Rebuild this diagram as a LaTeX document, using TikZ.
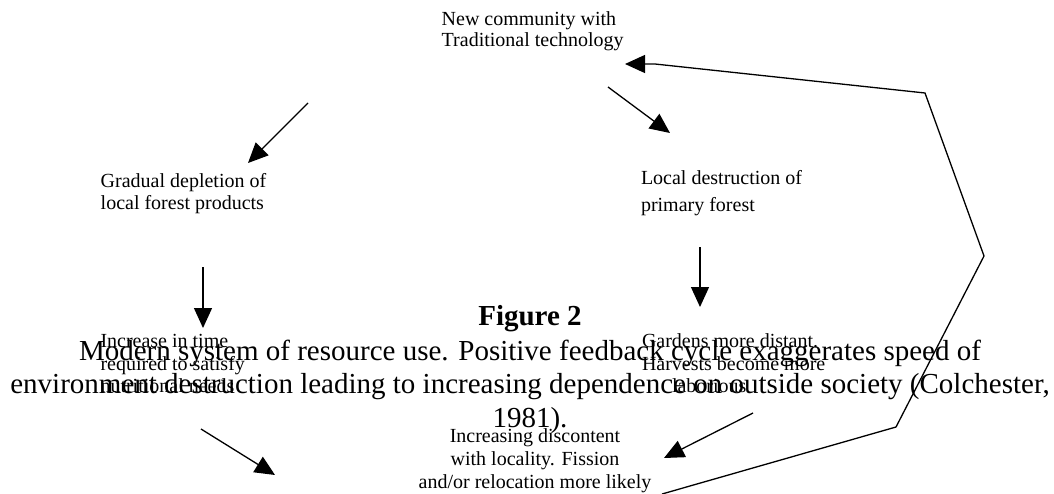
\documentclass[tikz,border=0pt]{standalone}
\usepackage{fontspec}
\setmainfont{Liberation Serif}
\usetikzlibrary{arrows.meta}
\begin{document}
\begin{tikzpicture}[x=1pt,y=-1pt,
  lbl/.style={inner sep=0pt, outer sep=0pt, font=\fontsize{20}{22}\selectfont, align=left, anchor=base west},
  lblc/.style={inner sep=0pt, outer sep=0pt, font=\fontsize{20}{22.7}\selectfont, align=center, anchor=base},
  captxt/.style={inner sep=0pt, outer sep=0pt, font=\fontsize{29}{33.5}\selectfont, align=center, anchor=base},
  arr/.style={line width=1.3pt, -{Triangle[length=20pt,width=18pt]}},
  fb/.style={line width=1.3pt, line join=miter}]
\useasboundingbox (0,0) rectangle (1054,493);
% texts (anchor = baseline of the last line)
\node[lbl, font=\fontsize{20}{21.7}\selectfont] (new) at (441.7,46.7) {New community with\\Traditional technology};
\node[lbl] (grad) at (100.7,209) {Gradual depletion of\\local forest products};
\node[lbl, font=\fontsize{20}{26.5}\selectfont] (local) at (641,211) {Local destruction of\\primary forest};
\node[lbl, font=\fontsize{20}{22.7}\selectfont] (incr) at (100.5,392.9) {Increase in time\\required to satisfy\\nutritional needs};
\node[lbl, font=\fontsize{20}{22.7}\selectfont] (gard) at (642,392.9) {Gardens more distant.\\Harvests become more\\\hspace*{30pt}laborious};
\node[lblc] (disc) at (535,488) {Increasing discontent\\with locality. Fission\\and/or relocation more likely};
\node[captxt, font=\fontsize{29}{33.5}\selectfont\bfseries] (fig) at (530,325) {Figure 2};
\node[captxt] (caption) at (530,427) {Modern system of resource use. Positive feedback cycle exaggerates speed of\\environment destruction leading to increasing dependence on outside society (Colchester,\\1981).};
% connector coordinates
\coordinate (a1s) at (308,103); \coordinate (a1e) at (248,163);
\coordinate (a2s) at (608,87);  \coordinate (a2e) at (670,133);
\coordinate (a3s) at (203,267); \coordinate (a3e) at (203,328);
\coordinate (a4s) at (700,247); \coordinate (a4e) at (700,307);
\coordinate (a5s) at (201,429); \coordinate (a5e) at (275,475);
\coordinate (a6s) at (753,413); \coordinate (a6e) at (664,458);
\coordinate (f0) at (662,494);
\coordinate (f1) at (896,427);
\coordinate (f2) at (984,256);
\coordinate (f3) at (925,93);
\coordinate (f4) at (655,64);
\coordinate (f5) at (625,64);
% arrows
\draw[arr] (a1s) -- (a1e);
\draw[arr] (a2s) -- (a2e);
\draw[arr] (a3s) -- (a3e);
\draw[arr] (a4s) -- (a4e);
\draw[arr] (a5s) -- (a5e);
\draw[arr] (a6s) -- (a6e);
\draw[arr, line join=miter] (f0) -- (f1) -- (f2) -- (f3) -- (f4) -- (f5);
\end{tikzpicture}
\end{document}
